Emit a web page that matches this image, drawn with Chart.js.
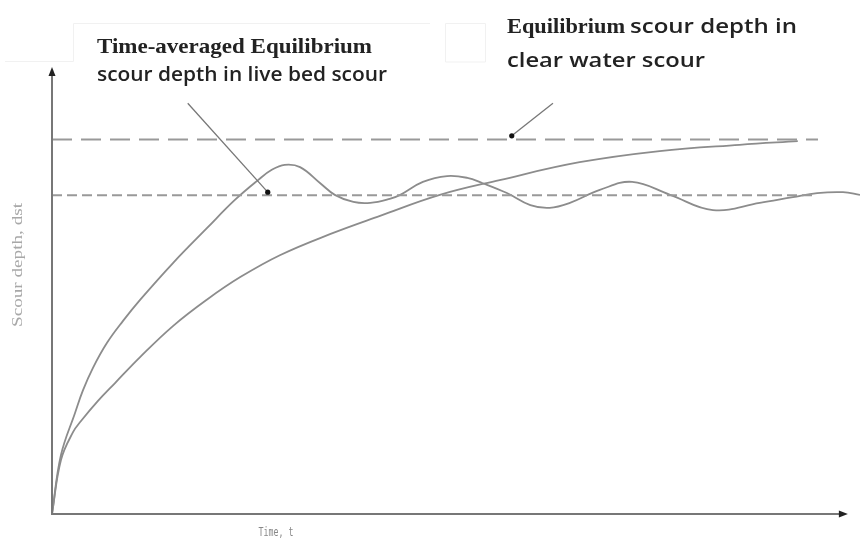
<!DOCTYPE html>
<html>
<head>
<meta charset="utf-8">
<script src="https://cdn.jsdelivr.net/npm/chart.js@4"></script>
<style>
  body { margin: 0; background: #fff; }
  canvas { display: block; }
</style>
</head>
<body>
<canvas id="chart" width="860" height="539"></canvas>
<script>
// time and depth in arbitrary units (0..100)
const clearTime  = [0, 1.11, 2.6, 3.59, 5.69, 7.8, 10.9, 15.0, 19.2, 23.3, 28.2, 34.4, 40.6, 48.0, 55.4, 65.3, 75.2, 85.1, 92.3];
const clearDepth = [0, 12.1, 18.3, 20.8, 25.3, 29.3, 35.1, 42.1, 48.0, 53.0, 57.9, 62.6, 66.7, 71.4, 74.7, 78.7, 81.2, 82.6, 83.4];

const liveTime  = [0, 1.11, 2.85, 3.84, 5.07, 6.81, 8.79, 10.9, 15.0, 19.2, 22.6, 25.5, 27.2, 28.8, 30.7, 33.2, 35.0, 37.3, 39.4, 41.8, 43.1, 45.9, 48.9, 51.4, 53.3, 56.3, 59.2, 61.6, 64.1, 67.8, 71.8, 76.5, 81.8, 87.6, 91.7, 94.7, 97.9, 100];
const liveDepth = [0, 13.2, 22.6, 27.7, 32.7, 38.3, 43.2, 47.9, 56.2, 64.0, 70.2, 74.7, 77.0, 78.1, 77.6, 74.0, 71.4, 69.8, 69.6, 70.5, 71.4, 74.3, 75.6, 75.2, 74.0, 71.8, 69.1, 68.5, 69.6, 72.5, 74.3, 71.4, 68.0, 69.6, 70.9, 71.8, 72.0, 71.4];

const clearEquilibrium = 83.8;   // long dash
const liveEquilibrium = 71.3;    // short dash
const clearEqEnd = 94.8;
const liveEqEnd = 94.2;

const xAxisEnd = 98.5;
const yAxisEnd = 100;

function pts(xs, ys) { return xs.map((x, i) => ({ x: x, y: ys[i] })); }

const lineColor = '#8c8c8c';

const decor = {
  id: 'decor',
  afterDraw(chart) {
    const ctx = chart.ctx;
    const xs = chart.scales.x, ys = chart.scales.y;
    const x0 = xs.getPixelForValue(0), y0 = ys.getPixelForValue(0);
    const xe = xs.getPixelForValue(xAxisEnd), ye = ys.getPixelForValue(yAxisEnd);
    ctx.save();

    // faint boxes behind the text blocks
    ctx.strokeStyle = '#f1f1f1';
    ctx.lineWidth = 1;
    ctx.beginPath();
    ctx.moveTo(5, 61.5); ctx.lineTo(73.5, 61.5); ctx.lineTo(73.5, 23.5); ctx.lineTo(430, 23.5);
    ctx.moveTo(445.5, 62); ctx.lineTo(445.5, 23.5); ctx.lineTo(485.5, 23.5); ctx.lineTo(485.5, 62); ctx.lineTo(445.5, 62);
    ctx.stroke();

    // axes
    ctx.strokeStyle = '#777';
    ctx.fillStyle = '#222';
    ctx.lineWidth = 2;
    ctx.beginPath();
    ctx.moveTo(x0, ye + 4); ctx.lineTo(x0, y0); ctx.lineTo(xe - 4, y0);
    ctx.stroke();
    ctx.beginPath();
    ctx.moveTo(x0, ye); ctx.lineTo(x0 - 3.5, ye + 9); ctx.lineTo(x0 + 3.5, ye + 9); ctx.closePath();
    ctx.fill();
    ctx.beginPath();
    ctx.moveTo(xe, y0); ctx.lineTo(xe - 9, y0 - 3.5); ctx.lineTo(xe - 9, y0 + 3.5); ctx.closePath();
    ctx.fill();

    // pointer lines
    const pointers = [[16.8, 91.9, 26.7, 72.0], [62.0, 91.9, 56.9, 84.6]];
    ctx.strokeStyle = '#777';
    ctx.lineWidth = 1.3;
    pointers.forEach(p => {
      const ax = xs.getPixelForValue(p[0]), ay = ys.getPixelForValue(p[1]);
      const bx = xs.getPixelForValue(p[2]), by = ys.getPixelForValue(p[3]);
      ctx.beginPath(); ctx.moveTo(ax, ay); ctx.lineTo(bx, by); ctx.stroke();
      ctx.fillStyle = '#111';
      ctx.beginPath(); ctx.arc(bx, by, 2.6, 0, Math.PI * 2); ctx.fill();
    });

    // text squeezed to the width it has in the figure
    function fit(text, x, y, w, font, color, align) {
      ctx.font = font;
      ctx.fillStyle = color;
      ctx.textAlign = align || 'left';
      ctx.textBaseline = 'alphabetic';
      const m = ctx.measureText(text).width;
      ctx.save();
      ctx.translate(x, y);
      ctx.scale(w / m, 1);
      ctx.fillText(text, 0, 0);
      ctx.restore();
    }
    fit('Time-averaged Equilibrium', 97, 53, 275, 'bold 22px "Liberation Serif"', '#222');
    fit('scour depth in live bed scour', 97, 81, 290, '600 20px "Open Sans"', '#222');
    fit('Equilibrium', 507, 33, 118, 'bold 21px "Liberation Serif"', '#222');
    fit('scour depth in', 630, 33, 167, '600 20px "Open Sans"', '#222');
    fit('clear water scour', 507, 67, 198, '600 20px "Open Sans"', '#222');

    // axis titles
    ctx.save();
    ctx.translate(17, 265);
    ctx.rotate(-Math.PI / 2);
    fit('Scour depth, dst', 0, 5, 124, '15px "Liberation Serif"', '#a8a8a8', 'center');
    ctx.restore();

    fit('Time, t', 276, 536, 35, '13px "DejaVu Sans Mono"', '#888', 'center');

    ctx.restore();
  }
};

new Chart(document.getElementById('chart'), {
  type: 'line',
  data: {
    datasets: [
      {
        label: 'Clear water equilibrium',
        data: [{ x: 0, y: clearEquilibrium }, { x: clearEqEnd, y: clearEquilibrium }],
        borderColor: '#999',
        borderWidth: 2,
        borderDash: [20, 9],
        pointRadius: 0,
        fill: false
      },
      {
        label: 'Live bed equilibrium',
        data: [{ x: 0, y: liveEquilibrium }, { x: liveEqEnd, y: liveEquilibrium }],
        borderColor: '#999',
        borderWidth: 2,
        borderDash: [10, 5],
        pointRadius: 0,
        fill: false
      },
      {
        label: 'Clear water scour',
        data: pts(clearTime, clearDepth),
        borderColor: lineColor,
        borderWidth: 1.8,
        tension: 0.4,
        pointRadius: 0,
        fill: false
      },
      {
        label: 'Live bed scour',
        data: pts(liveTime, liveDepth),
        borderColor: lineColor,
        borderWidth: 1.8,
        tension: 0.4,
        pointRadius: 0,
        fill: false
      }
    ]
  },
  options: {
    responsive: false,
    animation: false,
    layout: { padding: { left: 52, top: 67, right: 0, bottom: 25 } },
    plugins: { legend: { display: false }, tooltip: { enabled: false } },
    scales: {
      x: { type: 'linear', min: 0, max: 100, display: false },
      y: { type: 'linear', min: 0, max: 100, display: false }
    }
  },
  plugins: [decor]
});
</script>
</body>
</html>
